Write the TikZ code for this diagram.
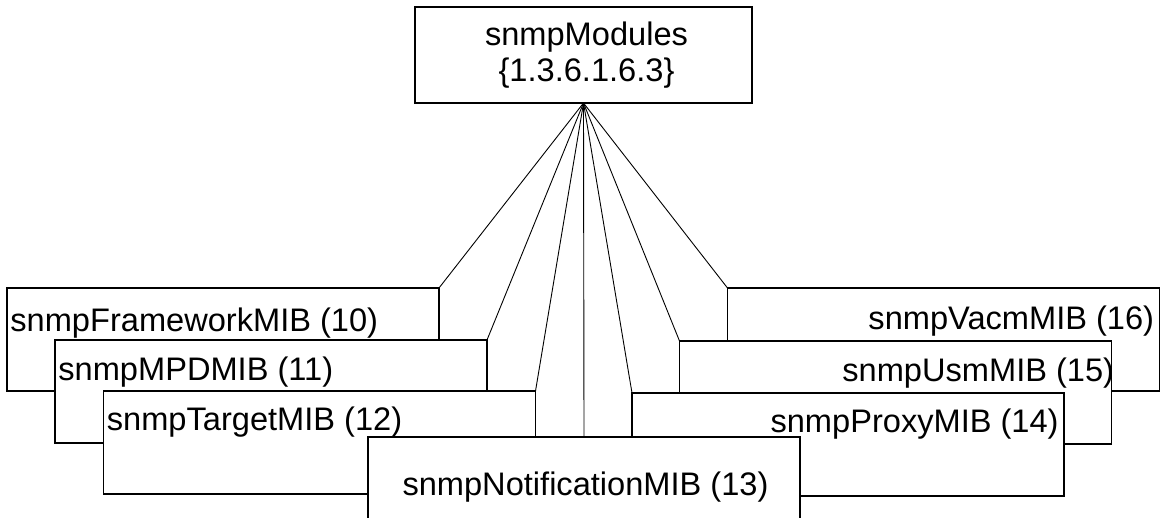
\documentclass[tikz,border=0pt]{standalone}
\usepackage{fontspec}
\setmainfont{Liberation Sans}
\usepackage{tikz}
\usetikzlibrary{positioning}

\begin{document}
\begin{tikzpicture}[x=0.5pt,y=-0.5pt,
   mib/.style={draw,fill=white,line width=0.75pt,inner sep=0pt,outer sep=0pt,
               minimum width=216pt,minimum height=51.5pt,anchor=north west},
   lbl/.style={inner sep=0pt,font=\fontsize{16.3}{17}\selectfont},
   link/.style={line width=0.45pt}]
   \useasboundingbox (0,0) rectangle (1168,518);              % page size

   \node[mib,minimum width=168.5pt,minimum height=48pt,anchor=center,
         align=center,font=\fontsize{16.3}{18}\selectfont] (mods) at (583.5,55)
         {\hspace*{3pt}snmpModules\\\hspace*{3pt}\{1.3.6.1.6.3\}}; % root box

   \node[mib] (fw) at (7,288) {};                             % left stack
   \node[lbl,anchor=west] (fwt) at ([xshift=1.5pt,yshift=-17.5pt]fw.north west) {snmpFrameworkMIB (10)};
   \node[mib] (mpd) at (55,340) {};
   \node[lbl,anchor=west] (mpdt) at ([xshift=1.5pt,yshift=-16pt]mpd.north west) {snmpMPDMIB (11)};
   \node[mib] (tgt) at (103.5,391) {};
   \node[lbl,anchor=west] (tgtt) at ([xshift=1.5pt,yshift=-15.5pt]tgt.north west) {snmpTargetMIB (12)};

   \node[mib] (vacm) at (727.5,288) {};                       % right stack
   \node[lbl,anchor=east] (vacmt) at ([xshift=-2.5pt,yshift=-16.5pt]vacm.north east) {snmpVacmMIB (16)};
   \node[mib] (usm) at (679.5,341) {};
   \node[lbl,anchor=east] (usmt) at ([xshift=1.5pt,yshift=-16pt]usm.north east) {snmpUsmMIB (15)};
   \node[mib] (proxy) at (632,393) {};
   \node[lbl,anchor=east] (proxyt) at ([xshift=-2.5pt,yshift=-15.5pt]proxy.north east) {snmpProxyMIB (14)};

   \node[mib] (notif) at (368,437) {};                        % front box
   \node[lbl] (notift) at ([xshift=0.75pt,yshift=-25pt]notif.north) {snmpNotificationMIB (13)};

   \draw[link] (mods.south) -- (fw.north east);               % fan out to left
   \draw[link] (mods.south) -- (mpd.north east);
   \draw[link] (mods.south) -- (tgt.north east);
   \draw[link] (mods.south) -- (notif.north);                 % straight down
   \draw[link] (mods.south) -- (proxy.north west);            % fan out to right
   \draw[link] (mods.south) -- (usm.north west);
   \draw[link] (mods.south) -- (vacm.north west);
\end{tikzpicture}
\end{document}
